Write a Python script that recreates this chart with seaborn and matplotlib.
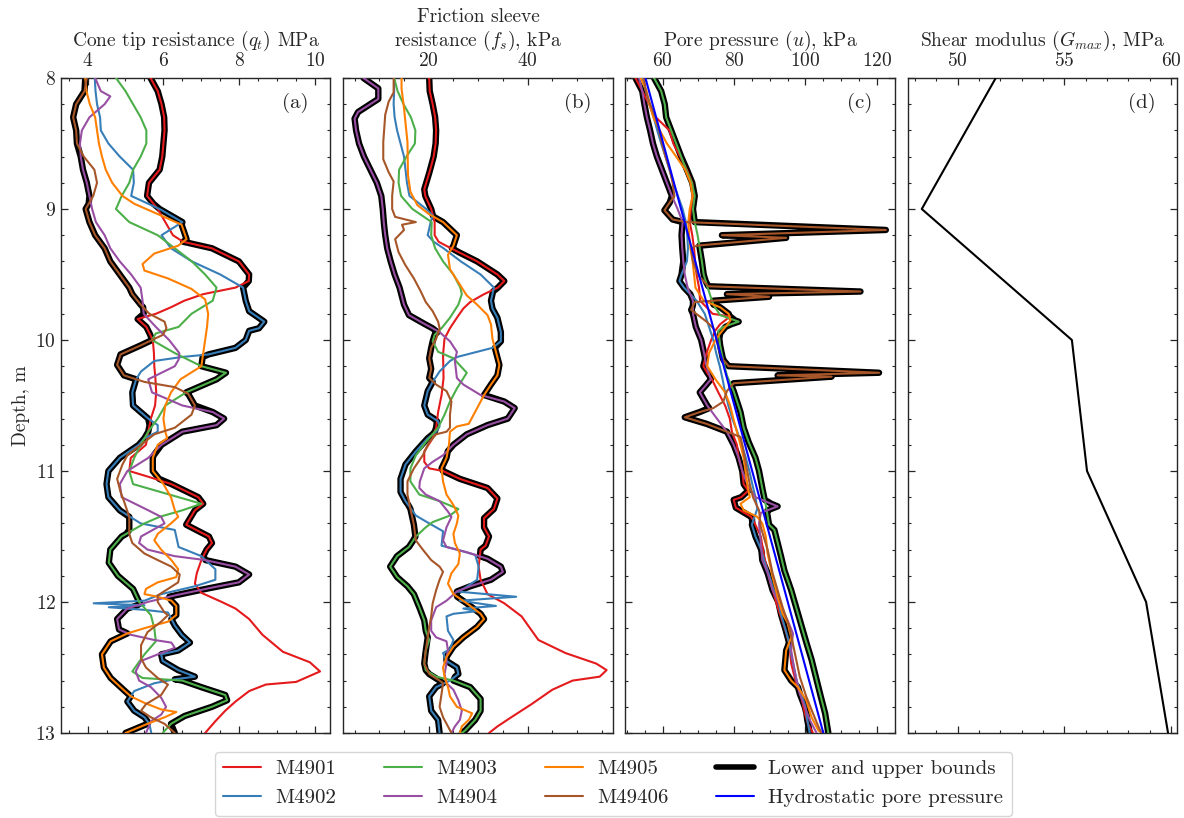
import numpy as np
import matplotlib
matplotlib.use("Agg")
import matplotlib.pyplot as plt
from matplotlib.ticker import MultipleLocator
from matplotlib.lines import Line2D
import seaborn as sns

sns.set_style("ticks")
plt.rcParams.update({
    "font.family": ["cmr10", "DejaVu Serif"],
    "mathtext.fontset": "cm",
    "axes.formatter.use_mathtext": True,
    "axes.unicode_minus": False,
    "font.size": 14,
    "axes.linewidth": 1.0,
})

CPT_NAMES = ["M4901", "M4902", "M4903", "M4904", "M4905", "M49406"]
COLORS = sns.color_palette("Set1", 9)
CPT_COLORS = [COLORS[0], COLORS[1], COLORS[2], COLORS[3], COLORS[4], COLORS[6]]

# ---------------- Cone tip resistance qt (MPa): (depth m, value) ----------------
qt_M4901 = [(8.0,5.66),(8.1,5.85),(8.2,5.95),(8.3,6.02),(8.4,6.03),(8.5,6.0),(8.6,5.97),(8.7,5.9),(8.8,5.62),(8.9,5.57),(9.0,5.85),(9.1,6.05),(9.2,6.25),(9.25,6.52),(9.3,7.28),(9.4,7.99),(9.5,8.26),(9.55,8.25),(9.6,7.9),(9.65,7.05),(9.7,6.55),(9.75,6.2),(9.8,5.8),(9.84,5.32),(9.9,5.55),(10.0,5.72),(10.1,5.75),(10.2,5.76),(10.3,5.79),(10.4,5.81),(10.5,5.78),(10.6,5.67),(10.7,5.6),(10.8,5.54),(10.9,5.14),(11.0,5.1),(11.05,5.67),(11.1,6.21),(11.2,6.92),(11.25,7.05),(11.3,6.83),(11.41,6.6),(11.5,7.2),(11.55,7.28),(11.6,7.14),(11.68,7.0),(11.78,6.88),(11.86,6.83),(11.93,7.0),(12.0,7.54),(12.05,7.9),(12.13,8.26),(12.25,8.61),(12.38,9.15),(12.46,9.86),(12.53,10.13),(12.61,9.5),(12.63,8.7),(12.68,8.26),(12.76,7.9),(12.83,7.63),(12.91,7.37),(13.0,7.1)]
qt_M4902 = [(8.0,4.19),(8.1,4.21),(8.2,4.25),(8.3,4.33),(8.4,4.35),(8.5,4.55),(8.6,4.85),(8.7,5.2),(8.8,5.22),(8.9,5.15),(9.0,5.9),(9.1,6.5),(9.2,5.95),(9.3,6.2),(9.4,6.75),(9.5,7.5),(9.6,8.1),(9.7,8.17),(9.78,8.26),(9.86,8.66),(9.91,8.52),(9.93,8.26),(10.0,8.17),(10.06,7.9),(10.11,7.19),(10.13,6.48),(10.16,5.76),(10.24,5.41),(10.3,5.28),(10.4,5.18),(10.5,5.2),(10.6,5.6),(10.65,5.85),(10.7,5.85),(10.75,5.5),(10.8,5.35),(10.9,4.85),(11.0,4.55),(11.1,4.5),(11.2,4.55),(11.3,4.85),(11.4,5.4),(11.45,6.3),(11.58,6.4),(11.65,7.0),(11.75,7.37),(11.83,7.37),(11.88,6.83),(11.94,5.94),(11.99,5.5),(12.01,4.16),(12.025,5.5),(12.04,4.56),(12.06,5.5),(12.08,6.12),(12.18,6.3),(12.25,6.48),(12.31,6.7),(12.37,6.39),(12.4,5.94),(12.45,5.98),(12.52,6.39),(12.57,6.83),(12.59,6.3),(12.62,5.76),(12.68,5.23),(12.76,5.05),(12.83,5.23),(12.88,5.5),(12.93,5.63),(13.0,5.68)]
qt_M4903 = [(8.0,4.75),(8.1,5.0),(8.2,5.2),(8.3,5.4),(8.4,5.55),(8.5,5.55),(8.6,5.4),(8.7,5.2),(8.8,5.1),(8.9,4.9),(9.0,4.75),(9.1,5.1),(9.2,5.85),(9.3,6.3),(9.4,6.75),(9.5,7.1),(9.6,7.4),(9.7,7.3),(9.8,6.74),(9.9,6.4),(9.95,5.8),(10.0,5.7),(10.1,6.3),(10.2,7.0),(10.25,7.65),(10.3,7.4),(10.4,6.6),(10.5,6.05),(10.6,5.85),(10.7,5.6),(10.8,5.4),(10.9,5.23),(11.0,5.1),(11.1,5.2),(11.2,6.4),(11.25,7.0),(11.3,6.5),(11.35,5.9),(11.4,5.5),(11.5,4.9),(11.6,4.6),(11.7,4.56),(11.8,4.8),(11.9,5.2),(12.0,5.36),(12.1,5.67),(12.2,5.76),(12.3,5.8),(12.4,5.5),(12.53,5.18),(12.58,5.45),(12.6,6.5),(12.65,7.0),(12.71,7.63),(12.75,7.68),(12.8,7.28),(12.87,6.56),(12.93,6.2),(13.0,5.98)]
qt_M4904 = [(8.0,4.2),(8.1,4.35),(8.14,4.6),(8.2,4.45),(8.3,4.05),(8.4,3.85),(8.5,3.8),(8.6,3.82),(8.7,3.88),(8.8,3.98),(8.9,4.05),(9.0,4.12),(9.1,4.22),(9.2,4.45),(9.3,4.6),(9.4,4.85),(9.5,5.15),(9.6,5.4),(9.7,5.45),(9.8,5.48),(9.9,5.8),(10.0,6.15),(10.1,6.42),(10.15,6.4),(10.2,6.3),(10.3,5.6),(10.4,5.7),(10.5,6.5),(10.55,7.3),(10.6,7.6),(10.65,7.4),(10.7,6.5),(10.8,5.95),(10.9,5.6),(11.0,5.05),(11.1,4.85),(11.2,4.9),(11.3,5.6),(11.35,5.94),(11.4,6.03),(11.45,5.72),(11.5,5.41),(11.55,5.36),(11.6,5.58),(11.65,6.3),(11.68,7.1),(11.73,7.9),(11.79,8.26),(11.85,7.99),(11.89,7.28),(11.95,6.3),(12.0,5.58),(12.05,5.05),(12.13,4.78),(12.21,4.83),(12.25,5.14),(12.29,5.76),(12.31,6.21),(12.35,6.3),(12.4,5.85),(12.45,5.41),(12.53,5.27),(12.6,5.36),(12.65,5.67),(12.73,5.94),(12.8,6.07),(12.86,5.94),(12.91,5.67),(13.0,5.54)]
qt_M4905 = [(8.0,3.94),(8.1,3.97),(8.2,4.06),(8.3,4.2),(8.4,4.25),(8.5,4.3),(8.6,4.38),(8.7,4.48),(8.8,4.65),(8.9,4.92),(8.96,5.23),(9.05,5.94),(9.12,6.48),(9.23,6.61),(9.28,6.39),(9.34,5.76),(9.42,5.45),(9.47,5.5),(9.53,6.12),(9.61,6.74),(9.69,7.1),(9.8,7.18),(9.9,7.15),(10.0,7.1),(10.1,7.05),(10.2,7.0),(10.3,6.45),(10.4,6.2),(10.5,6.05),(10.6,6.0),(10.7,6.05),(10.75,6.1),(10.8,5.85),(10.9,5.72),(11.0,5.72),(11.1,6.0),(11.2,6.2),(11.3,6.3),(11.35,6.39),(11.4,6.2),(11.48,5.85),(11.53,5.76),(11.6,5.94),(11.68,6.21),(11.75,6.39),(11.81,6.34),(11.85,5.85),(11.9,5.54),(11.94,5.5),(11.96,5.85),(11.99,6.21),(12.03,6.34),(12.1,6.34),(12.15,6.12),(12.2,5.5),(12.24,5.05),(12.3,4.61),(12.4,4.38),(12.5,4.43),(12.58,4.61),(12.65,4.87),(12.72,5.14),(12.77,5.5),(12.82,5.94),(12.84,6.34),(12.88,6.03),(12.93,5.58),(13.0,5.0)]
qt_M49406 = [(8.0,3.98),(8.1,3.92),(8.2,3.7),(8.3,3.62),(8.4,3.7),(8.5,3.72),(8.6,3.9),(8.7,4.18),(8.8,4.25),(8.9,4.15),(9.0,3.95),(9.1,4.05),(9.2,4.2),(9.3,4.45),(9.4,4.6),(9.5,4.85),(9.6,5.1),(9.65,5.18),(9.73,5.4),(9.8,5.63),(9.86,6.03),(9.91,6.08),(9.96,5.99),(10.04,5.41),(10.11,4.87),(10.19,4.78),(10.27,4.96),(10.32,5.5),(10.36,6.3),(10.41,6.65),(10.5,6.83),(10.57,6.74),(10.67,6.3),(10.72,5.76),(10.8,5.41),(10.88,5.05),(10.95,4.92),(11.06,4.78),(11.16,4.87),(11.23,4.96),(11.35,5.1),(11.48,5.1),(11.55,5.18),(11.63,5.5),(11.68,5.85),(11.73,6.21),(11.79,6.43),(11.85,6.39),(11.9,6.12),(11.95,5.85),(12.0,5.85),(12.08,6.03),(12.1,6.12),(12.15,5.94),(12.23,5.58),(12.33,5.41),(12.43,5.41),(12.5,5.54),(12.58,5.85),(12.63,6.12),(12.71,5.94),(12.78,5.54),(12.83,5.41),(12.88,5.67),(12.93,6.03),(13.0,6.3)]

# ---------------- Friction sleeve resistance fs (kPa) ----------------
fs_M4901 = [(8.0,20.1),(8.1,20.2),(8.2,20.8),(8.3,21.3),(8.4,21.5),(8.5,21.4),(8.6,21.0),(8.7,20.3),(8.8,19.5),(8.85,19.1),(8.9,19.3),(9.0,20.5),(9.1,21.2),(9.2,21.2),(9.25,22.0),(9.3,24.5),(9.4,29.8),(9.5,33.9),(9.55,35.3),(9.6,34.0),(9.65,31.2),(9.71,28.4),(9.76,27.0),(9.83,25.7),(9.91,24.3),(9.99,23.2),(10.11,22.9),(10.29,23.0),(10.42,22.6),(10.55,21.9),(10.67,21.5),(10.75,20.8),(10.85,19.1),(10.93,19.1),(10.98,20.1),(11.0,22.9),(11.06,26.3),(11.13,31.9),(11.21,33.9),(11.29,33.2),(11.36,31.2),(11.43,31.2),(11.5,32.2),(11.57,31.5),(11.6,30.5),(11.73,30.1),(11.83,30.5),(11.94,31.9),(12.01,35.3),(12.11,38.8),(12.29,42.2),(12.39,47.7),(12.47,53.9),(12.52,56.0),(12.57,54.6),(12.6,49.1),(12.67,45.0),(12.78,40.8),(12.88,36.7),(12.95,33.9),(13.0,32.2)]
fs_M4902 = [(8.0,13.0),(8.1,13.0),(8.2,12.9),(8.3,13.1),(8.4,13.6),(8.5,14.3),(8.6,15.0),(8.7,15.3),(8.8,15.6),(8.9,16.1),(9.0,19.5),(9.05,20.8),(9.1,20.4),(9.2,19.8),(9.25,21.0),(9.3,23.0),(9.4,26.5),(9.5,30.5),(9.6,33.2),(9.7,32.6),(9.76,32.9),(9.83,33.9),(9.94,34.6),(10.01,34.6),(10.06,32.9),(10.13,25.7),(10.16,24.3),(10.24,22.2),(10.32,20.8),(10.39,19.8),(10.5,19.1),(10.57,19.8),(10.62,21.9),(10.66,22.2),(10.7,21.5),(10.75,19.8),(10.85,17.4),(10.95,15.3),(11.06,14.3),(11.16,14.3),(11.23,15.3),(11.34,17.4),(11.4,20.1),(11.46,22.9),(11.57,22.6),(11.6,25.7),(11.64,29.4),(11.73,30.1),(11.83,29.8),(11.9,27.0),(11.92,25.7),(11.96,37.7),(11.99,26.3),(12.03,33.6),(12.05,27.0),(12.07,29.8),(12.09,25.0),(12.11,23.6),(12.22,23.9),(12.29,25.0),(12.36,24.3),(12.39,22.9),(12.45,23.6),(12.5,25.7),(12.55,26.0),(12.6,24.3),(12.65,21.5),(12.72,20.1),(12.83,20.5),(12.9,21.9),(13.0,22.2)]
fs_M4903 = [(8.0,13.0),(8.1,13.7),(8.2,14.9),(8.3,16.4),(8.4,17.3),(8.5,17.2),(8.6,15.5),(8.7,14.0),(8.8,13.9),(8.9,14.4),(9.0,16.7),(9.1,20.6),(9.2,20.5),(9.3,21.3),(9.4,22.9),(9.5,25.0),(9.6,26.4),(9.65,26.7),(9.73,26.0),(9.83,24.3),(9.91,22.6),(9.96,21.2),(10.01,20.8),(10.09,21.9),(10.14,25.0),(10.25,27.7),(10.37,25.7),(10.47,24.3),(10.57,23.2),(10.67,21.9),(10.78,19.4),(10.88,17.4),(10.98,16.3),(11.08,16.3),(11.18,18.1),(11.23,22.2),(11.29,26.0),(11.34,24.3),(11.39,20.8),(11.43,19.4),(11.5,17.4),(11.58,16.0),(11.65,13.6),(11.73,12.2),(11.81,13.6),(11.88,15.7),(11.94,17.0),(12.04,18.1),(12.14,19.1),(12.22,19.4),(12.29,20.1),(12.37,19.4),(12.47,19.1),(12.52,19.4),(12.57,21.5),(12.6,25.0),(12.65,28.4),(12.74,30.5),(12.83,30.5),(12.9,29.4),(12.98,27.4),(13.0,26.7)]
fs_M4904 = [(8.0,6.8),(8.08,9.8),(8.16,9.8),(8.26,5.7),(8.31,5.0),(8.4,5.3),(8.5,5.9),(8.6,6.9),(8.7,8.2),(8.8,9.5),(8.9,10.4),(9.0,10.7),(9.1,10.9),(9.2,11.2),(9.3,11.6),(9.4,12.3),(9.5,13.1),(9.6,14.1),(9.73,15.0),(9.81,16.0),(9.87,18.8),(9.94,22.2),(10.01,24.3),(10.09,25.7),(10.16,25.3),(10.29,25.7),(10.34,27.0),(10.42,30.5),(10.47,35.3),(10.52,37.4),(10.6,36.0),(10.65,31.9),(10.72,27.7),(10.8,25.0),(10.88,22.9),(10.93,20.8),(10.98,19.1),(11.08,18.2),(11.13,18.1),(11.18,19.4),(11.23,22.2),(11.31,23.9),(11.35,24.6),(11.43,23.6),(11.53,22.9),(11.58,23.6),(11.62,27.7),(11.67,31.9),(11.73,34.6),(11.77,35.0),(11.83,32.6),(11.88,28.4),(11.92,25.7),(11.99,23.6),(12.04,21.5),(12.14,20.5),(12.22,20.5),(12.27,21.5),(12.3,23.6),(12.37,23.9),(12.42,23.6),(12.47,23.6),(12.55,23.2),(12.62,23.6),(12.67,25.0),(12.75,26.0),(12.83,26.7),(12.9,26.3),(12.95,25.3),(13.0,24.6)]
fs_M4905 = [(8.0,14.5),(8.08,14.5),(8.23,15.0),(8.49,15.7),(8.74,15.8),(8.87,16.3),(8.97,17.7),(9.04,20.1),(9.1,22.9),(9.2,25.7),(9.28,25.0),(9.35,23.9),(9.46,24.3),(9.56,26.0),(9.66,27.7),(9.73,29.8),(9.81,31.9),(9.88,32.6),(9.99,32.9),(10.09,33.6),(10.19,34.3),(10.27,33.9),(10.34,32.6),(10.42,31.2),(10.52,29.8),(10.64,28.1),(10.66,25.7),(10.7,24.3),(10.8,24.1),(10.9,23.6),(10.98,22.6),(11.08,22.9),(11.18,23.6),(11.26,25.0),(11.34,26.0),(11.4,25.7),(11.48,25.0),(11.55,25.3),(11.63,26.3),(11.71,26.0),(11.78,24.6),(11.86,23.9),(11.94,25.0),(12.01,27.7),(12.09,30.5),(12.13,31.2),(12.19,29.8),(12.27,27.0),(12.34,25.0),(12.42,23.6),(12.5,22.9),(12.57,23.2),(12.65,23.9),(12.72,24.3),(12.8,25.7),(12.85,28.8),(12.9,28.1),(12.95,26.7),(13.0,26.3)]
fs_M49406 = [(8.0,12.9),(8.11,12.9),(8.18,11.9),(8.28,11.2),(8.49,10.8),(8.62,10.8),(8.72,11.9),(8.79,12.9),(8.9,12.6),(9.0,12.6),(9.06,13.2),(9.1,17.4),(9.12,14.6),(9.16,15.0),(9.23,13.2),(9.33,13.9),(9.43,15.3),(9.53,17.0),(9.63,18.4),(9.71,19.4),(9.78,20.8),(9.86,21.9),(9.91,22.2),(9.99,21.5),(10.06,20.5),(10.14,20.1),(10.22,20.5),(10.29,20.1),(10.34,21.5),(10.39,23.6),(10.47,24.6),(10.57,24.3),(10.67,24.3),(10.7,23.6),(10.72,21.5),(10.78,20.1),(10.88,18.8),(10.98,17.0),(11.08,15.7),(11.18,15.7),(11.29,16.3),(11.41,17.0),(11.53,17.4),(11.6,18.8),(11.68,20.5),(11.73,22.2),(11.77,22.9),(11.83,22.2),(11.91,21.5),(12.01,20.8),(12.11,20.5),(12.19,20.1),(12.27,19.8),(12.37,19.4),(12.47,19.1),(12.55,20.1),(12.6,22.2),(12.62,22.9),(12.7,22.6),(12.8,22.2),(12.88,22.9),(12.95,23.9),(13.0,24.6)]

# ---------------- Pore pressure u (kPa) ----------------
u_M4901 = [(8.0,52.4),(8.1,54.3),(8.2,56.2),(8.3,58.1),(8.4,61.9),(8.5,63.0),(8.6,64.9),(8.7,66.8),(8.8,68.3),(8.9,68.5),(9.0,67.9),(9.1,67.6),(9.2,68.3),(9.3,68.8),(9.4,69.1),(9.5,69.5),(9.6,70.2),(9.7,70.5),(9.75,72.3),(9.8,74.0),(9.82,78.9),(9.88,76.1),(9.93,74.7),(10.0,73.6),(10.1,72.3),(10.2,71.4),(10.25,72.5),(10.3,73.8),(10.4,75.6),(10.5,77.5),(10.6,78.8),(10.7,79.4),(10.8,80.8),(10.9,81.3),(11.0,82.3),(11.1,82.7),(11.15,84.0),(11.2,82.0),(11.22,79.9),(11.28,80.5),(11.35,84.8),(11.4,85.8),(11.5,87.5),(11.65,88.4),(11.86,90.3),(12.04,92.2),(12.19,94.1),(12.32,95.5),(12.47,96.0),(12.62,97.4),(12.72,98.8),(12.85,99.8),(12.93,100.7),(13.0,102.1)]
u_M4902 = [(8.0,54.3),(8.1,55.3),(8.2,56.3),(8.3,57.5),(8.4,58.5),(8.5,59.6),(8.6,60.8),(8.7,61.9),(8.8,63.0),(8.9,64.3),(9.0,65.6),(9.1,66.5),(9.2,66.9),(9.3,67.1),(9.4,66.8),(9.5,65.3),(9.55,64.7),(9.6,66.0),(9.7,69.5),(9.8,71.8),(9.9,73.0),(10.0,74.2),(10.1,75.0),(10.2,76.0),(10.3,76.8),(10.4,77.5),(10.5,78.4),(10.6,79.5),(10.7,80.9),(10.8,82.2),(10.9,83.3),(11.0,84.3),(11.1,85.1),(11.2,86.0),(11.29,86.5),(11.36,85.6),(11.41,85.0),(11.5,86.0),(11.6,87.6),(11.7,88.6),(11.8,89.9),(11.9,91.0),(12.0,92.4),(12.1,93.2),(12.2,94.3),(12.3,95.3),(12.4,96.0),(12.5,96.8),(12.6,97.5),(12.7,98.8),(12.8,100.0),(12.9,100.5),(13.0,101.2)]
u_M4903 = [(8.0,57.6),(8.1,59.6),(8.2,60.6),(8.3,61.0),(8.4,62.4),(8.5,63.8),(8.6,65.2),(8.7,66.6),(8.8,68.2),(8.9,69.0),(9.0,68.5),(9.1,69.0),(9.2,69.8),(9.3,70.4),(9.4,71.0),(9.5,71.5),(9.6,72.6),(9.73,74.2),(9.81,76.1),(9.86,81.3),(9.9,77.0),(9.93,75.6),(10.04,76.1),(10.16,77.0),(10.27,78.0),(10.39,79.9),(10.55,81.8),(10.67,82.7),(10.78,84.1),(10.9,86.0),(11.0,87.0),(11.13,87.9),(11.26,88.9),(11.41,89.8),(11.45,91.3),(11.6,92.7),(11.76,94.1),(11.91,96.0),(12.09,97.9),(12.27,99.8),(12.44,101.7),(12.65,103.6),(12.85,105.5),(13.0,106.4)]
u_M4904 = [(8.0,53.4),(8.1,54.3),(8.2,54.9),(8.3,55.6),(8.4,56.5),(8.5,57.3),(8.6,58.4),(8.7,59.8),(8.8,61.2),(8.9,62.6),(9.0,64.2),(9.1,65.6),(9.2,65.3),(9.3,65.5),(9.4,65.8),(9.5,66.2),(9.6,67.0),(9.7,68.5),(9.8,68.5),(9.9,69.3),(10.0,70.8),(10.1,71.6),(10.2,72.3),(10.3,73.5),(10.35,72.0),(10.4,70.4),(10.5,72.5),(10.6,75.2),(10.7,78.0),(10.8,79.9),(10.9,81.3),(11.0,82.3),(11.1,83.7),(11.15,84.8),(11.2,86.0),(11.27,92.2),(11.32,87.5),(11.4,87.0),(11.55,87.5),(11.68,87.9),(11.78,89.4),(11.91,90.8),(12.04,93.1),(12.14,95.0),(12.24,96.5),(12.37,96.0),(12.52,96.9),(12.7,98.4),(12.8,99.8),(12.9,101.2),(13.0,103.1)]
u_M4905 = [(8.0,53.9),(8.1,55.5),(8.2,56.3),(8.3,57.4),(8.4,59.2),(8.5,61.2),(8.6,63.8),(8.7,66.3),(8.8,67.8),(8.9,68.4),(9.0,67.6),(9.1,67.2),(9.2,67.4),(9.3,67.8),(9.4,68.4),(9.5,68.8),(9.6,69.2),(9.7,71.5),(9.75,76.1),(9.8,78.5),(9.85,79.0),(9.9,77.6),(9.95,76.1),(10.0,74.8),(10.1,73.0),(10.2,72.5),(10.3,74.8),(10.4,77.5),(10.5,78.9),(10.6,79.8),(10.7,80.8),(10.8,81.8),(10.9,82.7),(11.0,83.2),(11.1,83.7),(11.2,84.4),(11.25,81.8),(11.3,82.7),(11.35,86.5),(11.4,87.9),(11.5,88.9),(11.63,89.4),(11.81,90.8),(11.96,92.2),(12.09,93.6),(12.16,95.0),(12.27,96.0),(12.37,94.6),(12.52,94.1),(12.6,96.0),(12.65,97.9),(12.75,100.2),(12.88,101.7),(12.98,103.6),(13.0,104.5)]
u_M49406 = [(8.0,54.8),(8.1,55.3),(8.2,56.5),(8.3,58.0),(8.4,59.0),(8.5,59.8),(8.6,60.8),(8.7,62.0),(8.8,62.8),(8.9,63.3),(8.95,62.0),(9.01,60.5),(9.08,62.8),(9.1,66.6),(9.16,122.5),(9.2,76.6),(9.22,94.6),(9.28,69.5),(9.3,68.0),(9.4,68.5),(9.5,69.8),(9.59,72.8),(9.63,115.4),(9.65,78.0),(9.67,89.8),(9.71,69.0),(9.77,68.0),(9.81,69.9),(9.86,72.3),(9.91,74.2),(9.99,75.2),(10.06,75.6),(10.14,76.6),(10.2,78.5),(10.25,120.6),(10.27,92.2),(10.28,107.3),(10.33,79.9),(10.39,78.0),(10.47,77.0),(10.52,74.2),(10.55,70.4),(10.59,66.2),(10.64,72.3),(10.7,78.0),(10.74,81.8),(10.8,82.3),(10.9,83.0),(11.0,83.7),(11.1,84.4),(11.2,85.3),(11.3,87.0),(11.43,87.5),(11.6,89.4),(11.78,90.8),(11.91,92.2),(12.04,93.6),(12.19,95.5),(12.32,96.5),(12.44,97.4),(12.57,98.4),(12.72,100.2),(12.85,102.1),(12.95,103.6),(13.0,104.5)]

HYDRO_DEPTH = [8.0, 13.0]
HYDRO_U = [55.2, 105.0]

GMAX_DEPTH = [8.0, 9.0, 10.0, 11.0, 12.0, 13.0]
GMAX = [51.78, 48.31, 55.35, 56.06, 58.83, 59.86]

QT_SERIES = [qt_M4901, qt_M4902, qt_M4903, qt_M4904, qt_M4905, qt_M49406]
FS_SERIES = [fs_M4901, fs_M4902, fs_M4903, fs_M4904, fs_M4905, fs_M49406]
U_SERIES = [u_M4901, u_M4902, u_M4903, u_M4904, u_M4905, u_M49406]

# depth windows (series index, top, bottom) left out of the lower/upper bounds,
# as seen in the figure (M4901 below ~11.7 m, narrow M4902 spikes)
QT_BOUND_SKIP = [(0, 11.69, 13.5), (1, 11.995, 12.07)]
FS_BOUND_SKIP = [(0, 11.74, 13.5), (1, 11.935, 12.085)]
U_BOUND_SKIP = [(0, 11.62, 13.5)]

XLABELS = [r"Cone tip resistance $(q_t)$ MPa",
           "Friction sleeve\nresistance $(f_s)$, kPa",
           r"Pore pressure $(u)$, kPa",
           r"Shear modulus $(G_{max})$, MPa"]
PANEL_TAGS = ["(a)", "(b)", "(c)", "(d)"]
XLIMS = [(3.3, 10.4), (2.7, 57.2), (49.6, 125.0), (47.65, 60.28)]
XMAJOR = [2, 20, 20, 5]
XMINOR = [0.5, 5, 5, 1]

BOUND_LW = 4.6
LINE_LW = 1.5


def envelope(series, skip):
    grid = np.unique(np.concatenate([np.asarray(s)[:, 0] for s in series]))
    rows = []
    for k, s in enumerate(series):
        arr = np.asarray(s)
        keep = np.ones(len(arr), dtype=bool)
        for kk, d0, d1 in skip:
            if kk == k:
                keep &= ~((arr[:, 0] > d0) & (arr[:, 0] < d1))
        a = arr[keep]
        rows.append(np.interp(grid, a[:, 0], a[:, 1], left=np.nan, right=np.nan))
    v = np.vstack(rows)
    return grid, np.nanmin(v, axis=0), np.nanmax(v, axis=0)


fig, axes = plt.subplots(1, 4, figsize=(11.84, 8.18), dpi=100, sharey=True)
fig.subplots_adjust(left=61/1184, right=1177/1184, top=1-78/818, bottom=1-733/818, wspace=0.048)

for ax, series, skip in zip(axes[:3], [QT_SERIES, FS_SERIES, U_SERIES],
                            [QT_BOUND_SKIP, FS_BOUND_SKIP, U_BOUND_SKIP]):
    grid, lo, hi = envelope(series, skip)
    for b in (lo, hi):
        sns.lineplot(x=b, y=grid, sort=False, estimator=None, color="black",
                     lw=BOUND_LW, ax=ax, zorder=2, solid_joinstyle="round")
    for s, c in zip(series, CPT_COLORS):
        arr = np.asarray(s)
        sns.lineplot(x=arr[:, 1], y=arr[:, 0], sort=False, estimator=None, color=c,
                     lw=LINE_LW, ax=ax, zorder=3)

sns.lineplot(x=HYDRO_U, y=HYDRO_DEPTH, sort=False, estimator=None, color="#0000ff",
             lw=LINE_LW, ax=axes[2], zorder=4)
sns.lineplot(x=GMAX, y=GMAX_DEPTH, sort=False, estimator=None, color="black",
             lw=LINE_LW, ax=axes[3], zorder=3)

for i, ax in enumerate(axes):
    ax.set_xlim(*XLIMS[i])
    ax.set_ylim(13, 8)
    ax.xaxis.set_major_locator(MultipleLocator(XMAJOR[i]))
    ax.xaxis.set_minor_locator(MultipleLocator(XMINOR[i]))
    ax.yaxis.set_major_locator(MultipleLocator(1))
    ax.yaxis.set_minor_locator(MultipleLocator(0.2))
    ax.xaxis.tick_top()
    ax.xaxis.set_label_position("top")
    ax.tick_params(which="both", direction="in", top=True, bottom=True, left=True, right=True,
                   labeltop=True, labelbottom=False, labelsize=14)
    ax.tick_params(axis="x", which="major", pad=6)
    ax.tick_params(which="major", length=5, width=0.9)
    ax.tick_params(which="minor", length=2.5, width=0.8)
    ax.set_xlabel(XLABELS[i], fontsize=14, labelpad=4)
    ax.set_ylabel("")
    ax.text(0.87, 0.962, PANEL_TAGS[i], transform=ax.transAxes, ha="center", va="center", fontsize=15)
    for sp in ax.spines.values():
        sp.set_visible(True)
        sp.set_linewidth(1.0)
    if i > 0:
        ax.tick_params(labelleft=False)

axes[0].set_ylabel("Depth, m", fontsize=14)

handles = [Line2D([], [], color=c, lw=LINE_LW) for c in CPT_COLORS]
handles += [Line2D([], [], color="black", lw=4), Line2D([], [], color="#0000ff", lw=LINE_LW)]
labels = CPT_NAMES + ["Lower and upper bounds", "Hydrostatic pore pressure"]
fig.legend(handles, labels, ncol=4, loc="center", bbox_to_anchor=(0.518, 0.042),
           fontsize=15, handlelength=1.8, handletextpad=0.7, columnspacing=2.3, frameon=True)

fig.savefig("out.png", dpi=100)
